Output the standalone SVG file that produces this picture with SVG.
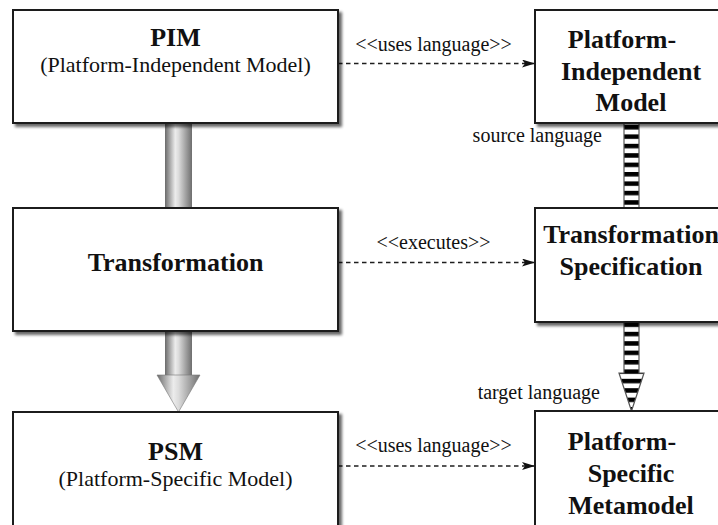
<svg xmlns="http://www.w3.org/2000/svg" width="718" height="525" viewBox="0 0 718 525">
<defs>
<style>
.box{fill:#fff;stroke:#1e1e1e;stroke-width:2;filter:url(#sh)}
.t{font-family:"Liberation Serif","Times New Roman",serif;fill:#111}
.b{font-weight:bold;font-size:26px;text-anchor:middle}
.s{font-size:22px;text-anchor:middle}
.l{font-size:20px}
.dash{fill:none;stroke:#1e1e1e;stroke-width:1.3;stroke-dasharray:4.5 3.5;marker-end:url(#ah)}
.stripe{fill:url(#stripes);stroke:#555;stroke-width:1.2}
</style>
<filter id="sh" x="-5%" y="-5%" width="115%" height="120%">
<feGaussianBlur in="SourceAlpha" stdDeviation="1.8"/>
<feOffset dx="3" dy="3" result="o"/>
<feComponentTransfer><feFuncA type="linear" slope="0.6"/></feComponentTransfer>
<feMerge><feMergeNode/><feMergeNode in="SourceGraphic"/></feMerge>
</filter>
<linearGradient id="gray" x1="0" y1="0" x2="1" y2="0">
<stop offset="0" stop-color="#6a6a6a"/>
<stop offset="0.38" stop-color="#ececec"/>
<stop offset="0.5" stop-color="#dcdcdc"/>
<stop offset="1" stop-color="#6e6e6e"/>
</linearGradient>
<pattern id="stripes" patternUnits="userSpaceOnUse" x="0" y="125" width="20" height="9.4">
<rect x="0" y="0" width="20" height="9.4" fill="#fff"/>
<rect x="0" y="0" width="20" height="4.5" fill="#000"/>
</pattern>
<marker id="ah" markerUnits="userSpaceOnUse" markerWidth="14" markerHeight="10" refX="13" refY="4" orient="auto">
<path d="M0,0 L13,4 L0,8 L3,4 Z" fill="#111"/>
</marker>
</defs>

<g id="connectors">
<rect x="165" y="123" width="27" height="85" fill="url(#gray)"/>
<rect x="165" y="331" width="27" height="44" fill="url(#gray)"/>
<path d="M157,375 L200,375 L178.5,412 Z" fill="url(#gray)" stroke="#777" stroke-width="0.6"/>
<rect class="stripe" x="624" y="123" width="15" height="85"/>
<path class="stripe" d="M624,322 L639,322 L639,373 L644,373 L631.5,411 L619,373 L624,373 Z"/>
<line class="dash" x1="338" y1="63.5" x2="535" y2="63.5"/>
<line class="dash" x1="338" y1="262.5" x2="535" y2="262.5"/>
<line class="dash" x1="338" y1="466" x2="535" y2="466"/>
<text class="t l" x="433.5" y="51" text-anchor="middle">&lt;&lt;uses language&gt;&gt;</text>
<text class="t l" x="433.5" y="249" text-anchor="middle">&lt;&lt;executes&gt;&gt;</text>
<text class="t l" x="433.5" y="452" text-anchor="middle">&lt;&lt;uses language&gt;&gt;</text>
<text class="t l" x="602" y="142" text-anchor="end">source language</text>
<text class="t l" x="600" y="399" text-anchor="end">target language</text>
</g>

<g id="pim">
<rect class="box" x="13" y="10" width="325" height="113"/>
<text class="t b" x="175.5" y="46">PIM</text>
<text class="t s" x="175.5" y="72">(Platform-Independent Model)</text>
</g>
<g id="transformation">
<rect class="box" x="13" y="208" width="325" height="123"/>
<text class="t b" x="175.5" y="271">Transformation</text>
</g>
<g id="psm">
<rect class="box" x="13" y="412" width="325" height="130"/>
<text class="t b" x="175.5" y="460">PSM</text>
<text class="t s" x="175.5" y="486">(Platform-Specific Model)</text>
</g>
<g id="pimm">
<rect class="box" x="535" y="10" width="195" height="113"/>
<text class="t b" x="622" y="48">Platform-</text>
<text class="t b" x="631" y="80">Independent</text>
<text class="t b" x="631" y="111">Model</text>
</g>
<g id="tspec">
<rect class="box" x="535" y="208" width="195" height="114"/>
<text class="t b" x="631" y="243">Transformation</text>
<text class="t b" x="631" y="275">Specification</text>
</g>
<g id="psmm">
<rect class="box" x="535" y="411" width="195" height="130"/>
<text class="t b" x="622" y="450">Platform-</text>
<text class="t b" x="631" y="482">Specific</text>
<text class="t b" x="631" y="514">Metamodel</text>
</g>
</svg>
